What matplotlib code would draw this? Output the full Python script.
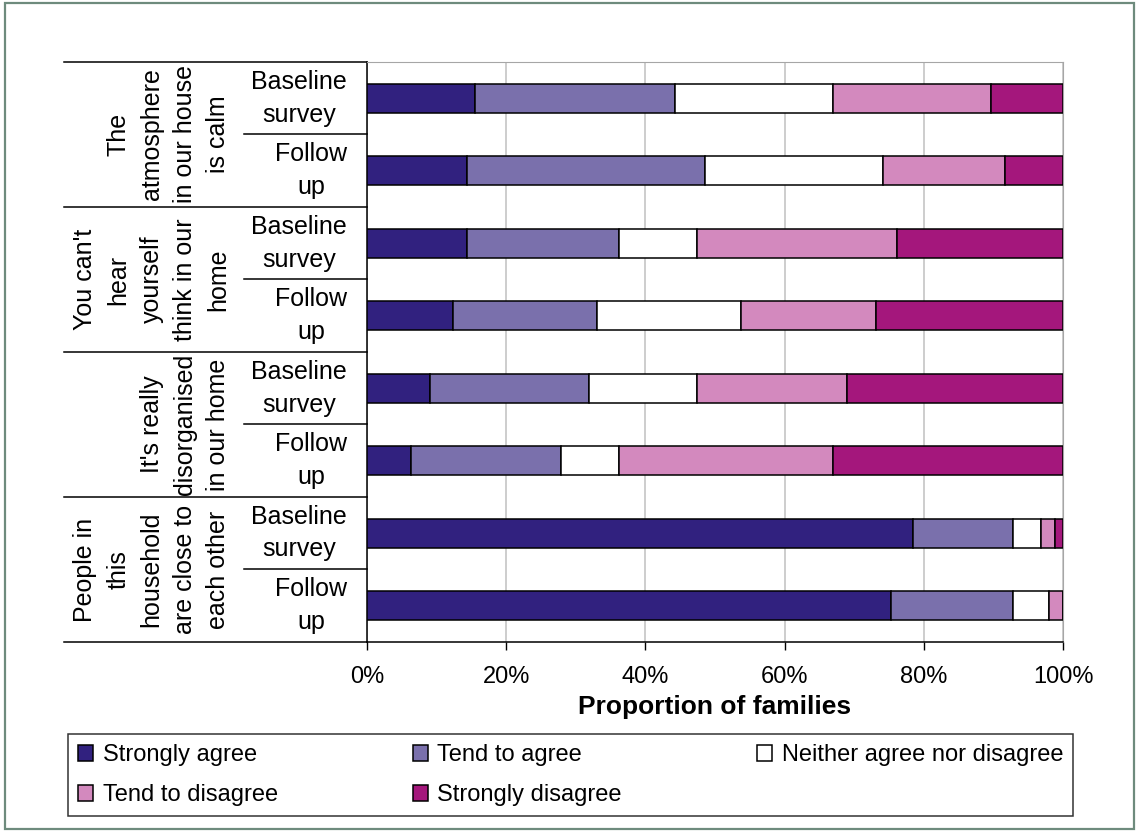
import numpy as np
import matplotlib
matplotlib.use("Agg")
import matplotlib.pyplot as plt
from matplotlib.patches import Patch, Rectangle
from matplotlib.transforms import blended_transform_factory

plt.rcParams['font.family'] = ['Liberation Sans', 'DejaVu Sans']

# survey statements (top to bottom) and the two waves asked for each
statements = [
    "The\natmosphere\nin our house\nis calm",
    "You can't\nhear\nyourself\nthink in our\nhome",
    "It's really\ndisorganised\nin our home",
    "People in\nthis\nhousehold\nare close to\neach other",
]
waves = ["Baseline\nsurvey", "Follow\nup"]

responses = ["Strongly agree", "Tend to agree", "Neither agree nor disagree",
             "Tend to disagree", "Strongly disagree"]
colors = ["#31217F", "#7A70AC", "#FFFFFF", "#D389BE", "#A4177C"]

# percentage of families per response, one row per bar (top to bottom)
strongly_agree = [15.5, 14.3, 14.3, 12.4, 9.1, 6.3, 78.4, 75.3]
tend_agree = [28.8, 34.3, 21.9, 20.7, 22.8, 21.6, 14.4, 17.5]
neither = [22.7, 25.6, 11.2, 20.6, 15.5, 8.3, 4.0, 5.2]
tend_disagree = [22.7, 17.5, 28.7, 19.5, 21.6, 30.7, 2.1, 2.0]
strongly_disagree = [10.3, 8.3, 23.9, 26.8, 31.0, 33.1, 1.1, 0.0]

series = [strongly_agree, tend_agree, neither, tend_disagree, strongly_disagree]

fig = plt.figure(figsize=(11.39, 8.32), dpi=100)
fig.patches.append(Rectangle((0.004, 0.004), 0.992, 0.992, transform=fig.transFigure,
                             fill=False, edgecolor="#6E8B7D", linewidth=1.6))

ax = fig.add_axes([0.3222, 0.2284, 0.6111, 0.6971])
y = np.arange(len(strongly_agree))
left = np.zeros(len(y))
for vals, col in zip(series, colors):
    ax.barh(y, vals, left=left, height=0.4, color=col, edgecolor="black",
            linewidth=1.1, zorder=3)
    left += np.array(vals)

ax.set_xlim(0, 100)
ax.set_ylim(len(y) - 0.5, -0.5)
ax.set_xticks(np.arange(0, 101, 20))
ax.set_xticklabels([f"{v}%" for v in range(0, 101, 20)], fontsize=17)
ax.tick_params(axis="x", length=6, width=1, pad=11, color="black")
ax.set_yticks([])
ax.xaxis.grid(True, color="#C0C0C0", linewidth=1.1, zorder=0)
ax.set_axisbelow(True)
for s in ["top", "right"]:
    ax.spines[s].set_color("#A6A6A6")
for s in ["left", "bottom"]:
    ax.spines[s].set_color("black")
    ax.spines[s].set_linewidth(1.1)

ax.set_xlabel("Proportion of families", fontsize=19, fontweight="bold")
ax.xaxis.set_label_coords(0.5, -0.091)

# two-level category labels on the left
trans = blended_transform_factory(ax.transAxes, ax.transData)
for g in range(len(statements) + 1):
    ax.plot([-0.4353, 0], [g * 2 - 0.5] * 2, color="black", lw=1.1,
            transform=trans, clip_on=False)
for g, text in enumerate(statements):
    ax.plot([-0.1767, 0], [g * 2 + 0.5] * 2, color="black", lw=1.1,
            transform=trans, clip_on=False)
    ax.text(-0.197, g * 2 + 0.5, text, rotation=90, ha="right", va="center",
            multialignment="center", fontsize=18, linespacing=1.48,
            transform=trans)
    for w, wave in enumerate(waves):
        ax.text(-0.0287, g * 2 + w, wave, ha="right", va="center",
                multialignment="center", fontsize=18, linespacing=1.45,
                transform=trans)

# legend laid out in 3 columns, filled column by column
order = [0, 3, 1, 4, 2]
handles = [Patch(facecolor=colors[i], edgecolor="black", linewidth=1.1) for i in order]
labels = [responses[i] for i in order]
leg = fig.legend(handles, labels, ncol=3, loc="lower left", mode="expand",
                 bbox_to_anchor=(68 / 1139, 1 - 816 / 832, 1005 / 1139, 83 / 832),
                 borderaxespad=0, fontsize=17, handlelength=0.65, handleheight=0.65,
                 handletextpad=0.4, labelspacing=0.75, borderpad=0.42,
                 fancybox=False, frameon=True)
leg.get_frame().set_edgecolor("black")
leg.get_frame().set_linewidth(1.1)

fig.savefig("out.png", dpi=100)
